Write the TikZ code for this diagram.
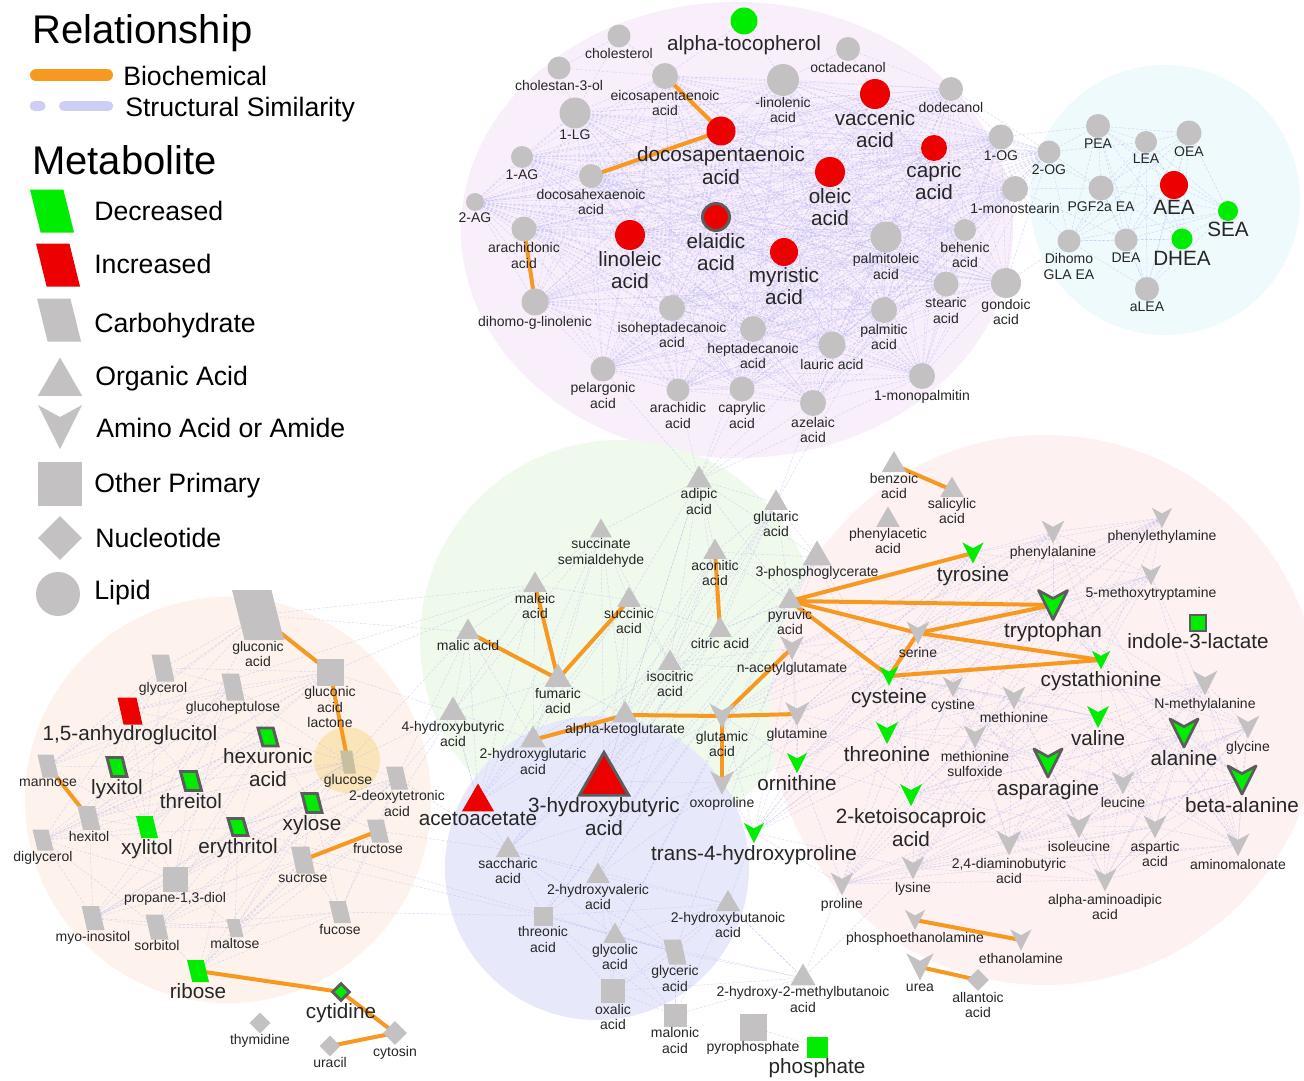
\documentclass[tikz,border=0pt]{standalone}
\usepackage{fontspec}
\setmainfont{Liberation Sans}
\usetikzlibrary{shapes.geometric,calc}

\definecolor{gry}{RGB}{196,193,195}
\definecolor{grn}{RGB}{0,236,0}
\definecolor{rd}{RGB}{236,0,0}
\definecolor{bord}{RGB}{92,92,92}
\definecolor{bioc}{RGB}{247,152,32}
\definecolor{simc}{RGB}{178,178,240}
\definecolor{simleg}{RGB}{205,205,246}
\definecolor{txt}{RGB}{38,38,38}
\definecolor{glcg}{RGB}{200,190,160}
\definecolor{lipbg}{RGB}{249,239,251}
\definecolor{aeabg}{RGB}{238,250,252}
\definecolor{carbbg}{RGB}{253,243,236}
\definecolor{orgbg}{RGB}{239,250,236}
\definecolor{botbg}{RGB}{231,233,250}
\definecolor{aminobg}{RGB}{253,241,241}
\definecolor{glchl}{RGB}{250,229,186}

\pgfdeclarelayer{bg}
\pgfdeclarelayer{edges}
\pgfsetlayers{bg,edges,main}

\tikzset{every picture/.style={line width=0.75pt}}
\tikzset{
  amf/.store in=\amf, amd/.store in=\amd, amf=gry, amd=none,
  sml/.style={font=\fontsize{10.5}{11.6}\selectfont, text=txt, align=center, inner sep=0.6pt, path picture={}},
  bgl/.style={font=\fontsize{15.5}{17}\selectfont, text=txt, align=center, inner sep=0.6pt, path picture={}},
  lb/.style={label={[sml]below:#1}},
  LB/.style={label={[bgl]below:#1}},
  lip/.style={circle, inner sep=0, fill=gry, minimum size=#1*0.75pt},
  oa/.style={regular polygon, regular polygon sides=3, inner sep=0, fill=gry, minimum size=#1*0.75pt},
  sq/.style={rectangle, inner sep=0, fill=gry, minimum size=#1*0.75pt},
  nuc/.style={diamond, inner sep=0, fill=gry, minimum size=#1*0.75pt},
  cb/.style 2 args={trapezium, trapezium left angle=115, trapezium right angle=65,
    trapezium stretches=true, inner sep=1pt, fill=gry,
    minimum width=#1*0.75pt, minimum height=#2*0.75pt},
  am/.style={rectangle, inner sep=0, minimum size=#1*0.75pt, path picture={
    \filldraw[fill=\amf, draw=\amd, line width=2pt, line join=round]
      ($(path picture bounding box.north west)!.06!(path picture bounding box.south east)$)
      -- ($(path picture bounding box.north)!.3!(path picture bounding box.south)$)
      -- ($(path picture bounding box.north east)!.06!(path picture bounding box.south west)$)
      -- ($(path picture bounding box.south)!.06!(path picture bounding box.north)$) -- cycle;}},
  up/.style={fill=rd}, dn/.style={fill=grn}, ring/.style={draw=bord, line width=2.2pt},
  adn/.style={amf=grn}, aring/.style={amd=bord},
  sim/.style={draw=simc, line width=0.35pt, dash pattern=on 2pt off 1.2pt, opacity=0.5},
  bio/.style={draw=bioc, line width=3pt, line cap=round},
  legh/.style={font=\fontsize{30}{32}\selectfont, anchor=base west, inner sep=0},
  legt/.style={font=\fontsize{20}{22}\selectfont, anchor=base west, inner sep=0},
}

\def\lipids{epa,lin,lg,dpa,vac,dodec,ag1,dha,ole,capr,og1,og2,ag2,ela,mst,ara,linol,myr,ptol,beh,dgla,ihep,ste,gon,palm,hep,laur,pel,mpalm,arach,capry,aze}
\def\aeas{pea,lea,oea,aea,sea,dhea,pgf,dea,dgea,alea}
\def\carbs{glua,glyc,man,lyx,glul,anhg,xylt,ghep,hexi,thre,digl,hexu,prop,glc,myo,eryt,sorb,xyl,malt,dtet,suc,rib,fuc,fru}
\def\orgs{mal,hbut,male,fum,aca,hglu,ssa,succ,akg,icit,hba,adip,cit,acon,glut,pyr,pga,sacc,hval,thrn,glyco,glyce,hbuta,oxa,malo,hmb}
\def\aminos{cys,thr,cyst,mso,met,kic,val,asn,dab,ile,leu,nmal,ala,asp,aad,gly,bala,amal,lys,pro,cth,ser,trp,mtry,phe,phea,tyr,hyp,orn,gln,glu,nag,oxo}

\begin{document}
\begin{tikzpicture}[x=0.75pt,y=0.75pt,yscale=-1,xscale=1]
\useasboundingbox (0,0) rectangle (1304,1081);

%Shape: cluster backgrounds
\begin{pgfonlayer}{bg}
\fill[white] (0,0) rectangle (1304,1081);
\fill[lipbg] (737,230) ellipse [x radius=276, y radius=228];
\fill[aeabg] (1165,200) circle [radius=135];
\fill[orgbg] (620,640) circle [radius=200];
\fill[aminobg] (1045,710) circle [radius=275];
\fill[carbbg] (228,800) circle [radius=203];
\fill[botbg] (597,868) circle [radius=152];
\fill[glchl] (347,760) circle [radius=33];
\end{pgfonlayer}

% Legend
\node[legh] (relh) at (32,44) {Relationship};
\coordinate (bioA) at (36,75);
\coordinate (bioB) at (107,75);
\draw[bio, line width=9pt] (bioA) -- (bioB);
\node[legt] (biot) at (123,86) {Biochemical};
\coordinate (simA) at (35,106);
\coordinate (simB) at (108,106);
\draw[draw=simleg, line width=8pt, line cap=round, dash pattern=on 4pt off 18pt on 40pt] (simA) -- (simB);
\node[legt] (simt) at (125,117) {Structural Similarity};
\node[legh] (meth) at (32,174) {Metabolite};
\node[cb={44}{43}, dn] (kdec) at (52,211) {};
\node[legt] (tdec) at (94,220) {Decreased};
\node[cb={44}{43}, up] (kinc) at (58,265) {};
\node[legt] (tinc) at (94,273) {Increased};
\node[cb={44}{43}] (kcar) at (59,320) {};
\node[legt] (tcar) at (94,332) {Carbohydrate};
\node[oa=51] (korg) at (60,383) {};
\node[legt] (torg) at (95,385) {Organic Acid};
\node[am=50] (kami) at (60,427) {};
\node[legt] (tami) at (96,437) {Amino Acid or Amide};
\node[sq=44] (koth) at (60,484) {};
\node[legt] (toth) at (94,492) {Other Primary};
\node[nuc=44] (knuc) at (60,538) {};
\node[legt] (tnuc) at (95,547) {Nucleotide};
\node[lip=44] (klip) at (58,594) {};
\node[legt] (tlip) at (94,599) {Lipid};

% Lipids
\node[lip=23] (chol) at (619,36) [lb=cholesterol] {};
\node[lip=23] (cholan) at (559,68) [lb=cholestan-3-ol] {};
\node[lip=27, dn] (atoc) at (744,21) [LB=alpha-tocopherol] {};
\node[lip=26] (epa) at (665,76) [lb={eicosapentaenoic\\acid}] {};
\node[lip=32] (lin) at (783,80) [lb={-linolenic\\acid}] {};
\node[lip=24] (octa) at (848,49) [lb=octadecanol] {};
\node[lip=31] (lg) at (575,113) [lb=1-LG] {};
\node[lip=29, up] (dpa) at (721,131) [LB={docosapentaenoic\\acid}] {};
\node[lip=30, up] (vac) at (875,94) [LB={vaccenic\\acid}] {};
\node[lip=24] (dodec) at (951,89) [lb=dodecanol] {};
\node[lip=22] (ag1) at (522,157) [lb=1-AG] {};
\node[lip=24] (dha) at (591,176) [lb={docosahexaenoic\\acid}] {};
\node[lip=30, up] (ole) at (830,172) [LB={oleic\\acid}] {};
\node[lip=26, up] (capr) at (934,148) [LB={capric\\acid}] {};
\node[lip=25] (og1) at (1001,137) [lb=1-OG] {};
\node[lip=23] (og2) at (1049,152) [lb=2-OG] {};
\node[lip=18] (ag2) at (475,202) [lb=2-AG] {};
\node[lip=27, up, ring] (ela) at (716,217) [LB={elaidic\\acid}] {};
\node[lip=26] (mst) at (1015,189) [lb=1-monostearin] {};
\node[lip=25] (ara) at (524,229) [lb={arachidonic\\acid}] {};
\node[lip=30, up] (linol) at (630,235) [LB={linoleic\\acid}] {};
\node[lip=28, up] (myr) at (784,252) [LB={myristic\\acid}] {};
\node[lip=31] (ptol) at (886,237) [lb={palmitoleic\\acid}] {};
\node[lip=22] (beh) at (965,230) [lb={behenic\\acid}] {};
\node[lip=27] (dgla) at (535,302) [lb=dihomo-g-linolenic] {};
\node[lip=26] (ihep) at (672,308) [lb={isoheptadecanoic\\acid}] {};
\node[lip=25] (ste) at (946,284) [lb={stearic\\acid}] {};
\node[lip=30] (gon) at (1006,283) [lb={gondoic\\acid}] {};
\node[lip=26] (palm) at (884,310) [lb={palmitic\\acid}] {};
\node[lip=26] (hep) at (753,329) [lb={heptadecanoic\\acid}] {};
\node[lip=27] (laur) at (832,345) [lb=lauric acid] {};
\node[lip=25] (pel) at (603,369) [lb={pelargonic\\acid}] {};
\node[lip=26] (mpalm) at (922,376) [lb=1-monopalmitin] {};
\node[lip=23] (arach) at (678,390) [lb={arachidic\\acid}] {};
\node[lip=25] (capry) at (742,389) [lb={caprylic\\acid}] {};
\node[lip=26] (aze) at (813,403) [lb={azelaic\\acid}] {};

% Ethanolamides
\node[lip=24] (pea) at (1098,126) [lb=PEA] {};
\node[lip=22] (lea) at (1146,142) [lb=LEA] {};
\node[lip=25] (oea) at (1189,133) [lb=OEA] {};
\node[lip=28, up] (aea) at (1174,185) [LB=AEA] {};
\node[lip=20, dn] (sea) at (1228,211) [LB=SEA] {};
\node[lip=21, dn] (dhea) at (1182,239) [LB=DHEA] {};
\node[lip=25] (pgf) at (1101,188) [lb=PGF2a EA] {};
\node[lip=23] (dea) at (1126,240) [lb=DEA] {};
\node[lip=23] (dgea) at (1069,241) [lb={Dihomo\\GLA EA}] {};
\node[lip=24] (alea) at (1147,289) [lb=aLEA] {};

% Carbohydrates and nucleotides
\node[cb={52}{50}] (glua) at (258,615) [lb={gluconic\\acid}] {};
\node[sq=27] (glul) at (330,672) [lb={gluconic\\acid\\lactone}] {};
\node[cb={23}{27}] (glyc) at (163,668) [lb=glycerol] {};
\node[cb={23}{27}] (ghep) at (233,687) [lb=glucoheptulose] {};
\node[cb={25}{27}, up] (anhg) at (130,711) [LB={1,5-anhydroglucitol}] {};
\node[cb={20}{18}, dn, ring] (hexu) at (268,737) [LB={hexuronic\\acid}] {};
\node[cb={16}{23}, fill=glcg] (glc) at (348,762) [lb=glucose] {};
\node[cb={21}{23}] (man) at (48,766) [lb=mannose] {};
\node[cb={20}{19}, dn, ring] (lyx) at (117,767) [LB=lyxitol] {};
\node[cb={21}{19}, dn, ring] (thre) at (191,781) [LB=threitol] {};
\node[cb={22}{23}] (dtet) at (397,778) [lb={2-deoxytetronic\\acid}] {};
\node[cb={20}{19}, dn, ring] (xyl) at (312,803) [LB=xylose] {};
\node[cb={23}{24}] (hexi) at (89,818) [lb=hexitol] {};
\node[cb={22}{22}, dn] (xylt) at (147,827) [LB=xylitol] {};
\node[cb={20}{17}, dn, ring] (eryt) at (238,827) [LB=erythritol] {};
\node[cb={21}{21}] (digl) at (43,840) [lb=diglycerol] {};
\node[cb={22}{23}] (fru) at (378,831) [lb=fructose] {};
\node[cb={24}{27}] (suc) at (303,860) [lb=sucrose] {};
\node[sq=25] (prop) at (175,879) [lb={propane-1,3-diol}] {};
\node[cb={23}{24}] (myo) at (93,918) [lb=myo-inositol] {};
\node[cb={23}{25}] (sorb) at (157,927) [lb=sorbitol] {};
\node[cb={17}{18}] (malt) at (235,928) [lb=maltose] {};
\node[cb={22}{22}] (fuc) at (340,912) [lb=fucose] {};
\node[cb={22}{22}, dn] (rib) at (198,971) [LB=ribose] {};
\node[nuc=18, dn, ring] (cyd) at (341,992) [LB=cytidine] {};
\node[nuc=21] (thy) at (260,1023) [lb=thymidine] {};
\node[nuc=21] (ura) at (330,1046) [lb=uracil] {};
\node[nuc=24] (cyt) at (395,1033) [lb=cytosin] {};

% Organic acids
\node[oa=29] (adip) at (699,480) [lb={adipic\\acid}] {};
\node[oa=27] (glut) at (776,503) [lb={glutaric\\acid}] {};
\node[oa=25] (ssa) at (601,531) [lb={succinate\\semialdehyde}] {};
\node[oa=27] (acon) at (715,552) [lb={aconitic\\acid}] {};
\node[oa=33] (pga) at (817,557) [lb=3-phosphoglycerate] {};
\node[oa=27] (male) at (535,585) [lb={maleic\\acid}] {};
\node[oa=27] (succ) at (629,600) [lb={succinic\\acid}] {};
\node[oa=27] (pyr) at (790,601) [lb={pyruvic\\acid}] {};
\node[oa=27] (mal) at (468,632) [lb=malic acid] {};
\node[oa=27] (cit) at (720,630) [lb=citric acid] {};
\node[oa=27] (icit) at (670,663) [lb={isocitric\\acid}] {};
\node[oa=31] (fum) at (558,679) [lb={fumaric\\acid}] {};
\node[am=27] (nag) at (792,648) [lb=n-acetylglutamate] {};
\node[oa=31] (hbut) at (453,712) [lb={4-hydroxybutyric\\acid}] {};
\node[oa=29] (akg) at (625,715) [lb=alpha-ketoglutarate] {};
\node[am=28] (glu) at (722,716) [lb={glutamic\\acid}] {};
\node[am=27] (gln) at (797,714) [lb=glutamine] {};
\node[oa=29] (hglu) at (533,740) [lb={2-hydroxyglutaric\\acid}] {};
\node[am=23, adn] (orn) at (797,763) [LB=ornithine] {};
\node[am=27] (oxo) at (722,783) [lb=oxoproline] {};
\node[oa=57, up, ring] (hba) at (604,781) [LB={3-hydroxybutyric\\acid}] {};
\node[oa=37, up] (aca) at (478,802) [LB=acetoacetate] {};

% Amino acids
\node[oa=28] (benz) at (894,465) [lb={benzoic\\acid}] {};
\node[oa=27] (sal) at (952,490) [lb={salicylic\\acid}] {};
\node[oa=27] (phac) at (888,520) [lb={phenylacetic\\acid}] {};
\node[am=23] (phea) at (1162,518) [lb=phenylethylamine] {};
\node[am=26] (phe) at (1053,532) [lb=phenylalanine] {};
\node[am=24, adn] (tyr) at (973,553) [LB=tyrosine] {};
\node[am=23] (mtry) at (1151,575) [lb=5-methoxytryptamine] {};
\node[am=33, adn, aring] (trp) at (1053,605) [LB=tryptophan] {};
\node[sq=16, dn, ring] (ilac) at (1198,623) [LB=indole-3-lactate] {};
\node[am=26] (ser) at (918,633) [lb=serine] {};
\node[am=21, adn] (cth) at (1101,660) [LB=cystathionine] {};
\node[am=22, adn] (cys) at (889,676) [LB=cysteine] {};
\node[am=23] (cyst) at (953,687) [lb=cystine] {};
\node[am=28] (nmal) at (1205,683) [lb=N-methylalanine] {};
\node[am=26] (met) at (1014,698) [lb=methionine] {};
\node[am=25, adn] (val) at (1098,717) [LB=valine] {};
\node[am=32, adn, aring] (ala) at (1184,733) [LB=alanine] {};
\node[am=26] (gly) at (1248,727) [lb=glycine] {};
\node[am=25, adn] (thr) at (887,733) [LB=threonine] {};
\node[am=26] (mso) at (975,737) [lb={methionine\\sulfoxide}] {};
\node[am=32, adn, aring] (asn) at (1048,763) [LB=asparagine] {};
\node[am=26] (leu) at (1123,783) [lb=leucine] {};
\node[am=32, adn, aring] (bala) at (1242,780) [LB=beta-alanine] {};
\node[am=25, adn] (kic) at (911,795) [LB={2-ketoisocaproic\\acid}] {};
\node[am=28] (ile) at (1079,826) [lb=isoleucine] {};
\node[am=26] (asp) at (1155,827) [lb={aspartic\\acid}] {};
\node[am=26] (amal) at (1238,845) [lb=aminomalonate] {};
\node[am=28] (dab) at (1009,843) [lb={2,4-diaminobutyric\\acid}] {};
\node[am=26] (lys) at (913,868) [lb=lysine] {};
\node[am=26] (pro) at (842,884) [lb=proline] {};
\node[am=26] (aad) at (1105,880) [lb={alpha-aminoadipic\\acid}] {};
\node[am=23] (pe) at (915,920) [lb=phosphoethanolamine] {};
\node[am=24] (etn) at (1021,940) [lb=ethanolamine] {};
\node[am=31] (urea) at (920,967) [lb=urea] {};
\node[nuc=22] (allan) at (978,980) [lb={allantoic\\acid}] {};

% Hydroxy acids and other primary
\node[am=23, adn] (hyp) at (754,833) [LB=trans-4-hydroxyproline] {};
\node[oa=28] (sacc) at (508,850) [lb={saccharic\\acid}] {};
\node[oa=27] (hval) at (598,876) [lb={2-hydroxyvaleric\\acid}] {};
\node[oa=28] (hbuta) at (728,904) [lb={2-hydroxybutanoic\\acid}] {};
\node[sq=19] (thrn) at (543,916) [lb={threonic\\acid}] {};
\node[oa=27] (glyco) at (615,936) [lb={glycolic\\acid}] {};
\node[cb={23}{25}] (glyce) at (675,952) [lb={glyceric\\acid}] {};
\node[oa=29] (hmb) at (803,978) [lb={2-hydroxy-2-methylbutanoic\\acid}] {};
\node[sq=24] (oxa) at (613,991) [lb={oxalic\\acid}] {};
\node[sq=23] (malo) at (675,1015) [lb={malonic\\acid}] {};
\node[sq=27] (ppi) at (753,1027) [lb=pyrophosphate] {};
\node[sq=21, dn] (pho) at (817,1047) [LB=phosphate] {};

\begin{pgfonlayer}{edges}
% structural similarity
\foreach \ma [count=\i] in \lipids {
  \foreach \mb [count=\j] in \lipids {
    \ifnum\j>\i \draw[sim] (\ma.center) -- (\mb.center); \fi
  }
}
\foreach \ma [count=\i] in \aeas {
  \foreach \mb [count=\j] in \aeas {
    \ifnum\j>\i \draw[sim] (\ma.center) -- (\mb.center); \fi
  }
}
\foreach \ma [count=\i] in \carbs {
  \foreach \mb [count=\j] in \carbs {
    \pgfmathtruncatemacro\bandd{\j-\i}
    \ifnum\bandd>0 \ifnum\bandd<7 \draw[sim] (\ma.center) -- (\mb.center); \fi\fi
  }
}
\foreach \ma [count=\i] in \orgs {
  \foreach \mb [count=\j] in \orgs {
    \pgfmathtruncatemacro\bandd{\j-\i}
    \ifnum\bandd>0 \ifnum\bandd<6 \draw[sim] (\ma.center) -- (\mb.center); \fi\fi
  }
}
\foreach \ma [count=\i] in \aminos {
  \foreach \mb [count=\j] in \aminos {
    \pgfmathtruncatemacro\bandd{\j-\i}
    \ifnum\bandd>0 \ifnum\bandd<8 \draw[sim] (\ma.center) -- (\mb.center); \fi\fi
  }
}
\foreach \ma/\mb in {chol/cholan, chol/lg, cholan/lg, cholan/epa, chol/epa, octa/lin, octa/vac, octa/dodec,
  atoc/lin, atoc/epa, og1/pea, og1/pgf, og2/pea, og2/pgf, og2/dgea, mst/pgf, mst/dgea, og2/lea, mst/dea, gon/dgea,
  adip/aze, adip/capry, adip/arach, adip/pel, adip/hep, adip/laur, glut/aze, glut/palm, adip/mpalm,
  mal/dtet, mal/glc, hbut/dtet, hbut/fru, glua/mal, glul/male, glul/hbut, glua/male, dtet/sacc, fru/sacc,
  glc/hbut, anhg/male, hmb/pro, hmb/hbuta, hmb/lys, ppi/pho, pro/hyp, lys/hyp, hyp/hbuta, oxo/hval,
  oxo/sacc, hba/glu, hba/oxo, aca/hbut, aca/sacc, thrn/suc, thrn/fuc, glyce/eryt, icit/cys, icit/ser,
  cit/pyr, pga/cys, pga/thr, nag/cys, gln/thr, gln/kic, orn/kic, orn/pro}
  \draw[sim] (\ma.center) -- (\mb.center);
% biochemical
\foreach \ma/\mb in {epa/dpa, dha/dpa, ara/dgla, glua/glul, glul/glc, man/hexi, fru/suc, rib/cyd, cyd/cyt, cyt/ura,
  mal/fum, male/fum, succ/fum, acon/cit, hglu/akg, akg/glu, glu/gln, glu/nag, glu/oxo, benz/sal,
  pyr/tyr, pyr/trp, pyr/ser, pyr/cys, ser/trp, ser/cth, ser/cys, cys/cth, pe/etn, urea/allan}
  \draw[bio] (\ma.center) -- (\mb.center);
\end{pgfonlayer}
\end{tikzpicture}
\end{document}
